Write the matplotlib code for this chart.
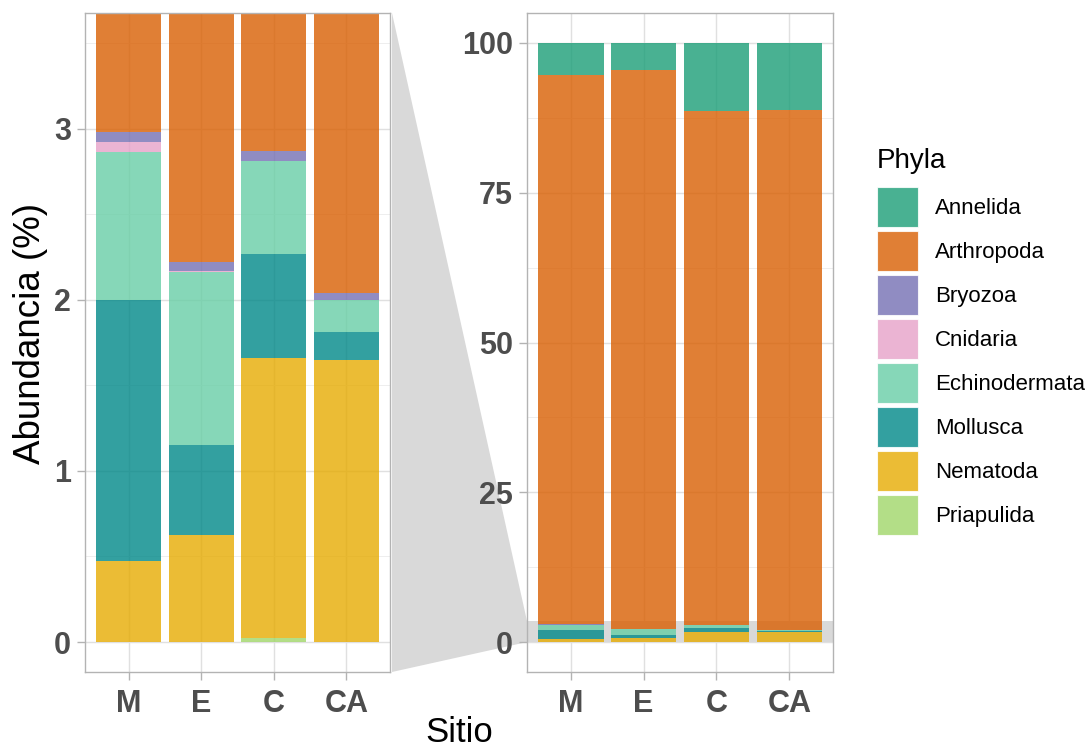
import matplotlib
matplotlib.use('Agg')
import matplotlib.pyplot as plt
from matplotlib.patches import Patch, Polygon
from matplotlib.ticker import MultipleLocator
import numpy as np

plt.rcParams['font.family'] = ['Liberation Sans', 'DejaVu Sans']

# ---- data (percent abundance) ----
sites = ['M', 'E', 'C', 'CA']
phyla = ['Annelida', 'Arthropoda', 'Bryozoa', 'Cnidaria',
         'Echinodermata', 'Mollusca', 'Nematoda', 'Priapulida']
annelida = [5.30, 4.50, 11.30, 11.20]
arthropoda = [91.72, 93.28, 85.83, 86.76]
bryozoa = [0.059, 0.049, 0.056, 0.039]
cnidaria = [0.058, 0.007, 0.0, 0.0]
echinodermata = [0.865, 1.010, 0.545, 0.184]
mollusca = [1.525, 0.525, 0.607, 0.168]
nematoda = [0.475, 0.627, 1.633, 1.646]
priapulida = [0.0, 0.0, 0.025, 0.0]
colors = ['#1B9E77', '#D95F02', '#7570B3', '#E6A1C9',
          '#68CEA6', '#008888', '#E6AB02', '#A0D669']
zoom_range = (0, 3.5)

values = dict(zip(phyla, [annelida, arthropoda, bryozoa, cnidaria,
                          echinodermata, mollusca, nematoda, priapulida]))
cmap = dict(zip(phyla, colors))
stack_order = phyla[::-1]  # Priapulida at bottom, Annelida on top

W, H = 1091, 749
fig = plt.figure(figsize=(W / 100, H / 100), dpi=100)
axL = fig.add_axes([85 / W, 1 - 672 / H, 305 / W, 659 / H])
axR = fig.add_axes([527 / W, 1 - 672 / H, 306 / W, 659 / H])

x = np.arange(1, len(sites) + 1)
ALPHA = 0.8


def draw(ax, ylim, major, minor):
    ax.set_facecolor('white')
    ax.set_axisbelow(True)
    bottom = np.zeros(len(sites))
    for ph in stack_order:
        v = np.array(values[ph])
        ax.bar(x, v, bottom=bottom, width=0.9, color=cmap[ph], alpha=ALPHA,
               linewidth=0, zorder=2)
        bottom += v
    ax.set_xlim(0.4, len(sites) + 0.6)
    ax.set_ylim(*ylim)
    ax.yaxis.set_major_locator(MultipleLocator(major))
    ax.yaxis.set_minor_locator(MultipleLocator(minor))
    ax.set_xticks(x)
    ax.set_xticklabels(sites, fontweight='bold')
    ax.grid(which='major', color='#E0E0E0', lw=1.0, zorder=0)
    ax.grid(which='minor', axis='y', color='#EBEBEB', lw=0.6, zorder=0)
    for s in ax.spines.values():
        s.set_color('#B3B3B3')
        s.set_linewidth(1.0)
    ax.tick_params(which='major', length=6, width=1, color='#B3B3B3',
                   labelsize=22, labelcolor='#4D4D4D')
    ax.tick_params(axis='y', pad=4)
    ax.tick_params(axis='x', pad=6)
    ax.tick_params(which='minor', length=0)


zr = zoom_range[1] - zoom_range[0]
draw(axL, (zoom_range[0] - 0.05 * zr, zoom_range[1] + 0.05 * zr), 1, 0.5)
draw(axR, (-5, 105), 25, 12.5)
axR.axhspan(zoom_range[0], zoom_range[1], color='#D9D9D9', zorder=1.5, lw=0)
axL.set_yticks([0, 1, 2, 3])
axL.set_yticklabels(['0', '1', '2', '3'], fontweight='bold')
axR.set_yticks([0, 25, 50, 75, 100])
axR.set_yticklabels(['0', '25', '50', '75', '100'], fontweight='bold')

# zoom connector
inv = fig.transFigure.inverted()
tl = inv.transform(axL.transAxes.transform((1, 1)))
bl = inv.transform(axL.transAxes.transform((1, 0)))
xr0 = axR.get_xlim()[0]
tr = inv.transform(axR.transData.transform((xr0, zoom_range[1])))
br = inv.transform(axR.transData.transform((xr0, zoom_range[0])))
off = 2 / W
poly = Polygon([(tl[0] + off, tl[1]), (tr[0], tr[1]), (br[0], br[1]), (bl[0] + off, bl[1])],
               closed=True, transform=fig.transFigure, facecolor='#D9D9D9',
               edgecolor='none', zorder=-1)
fig.patches.append(poly)

fig.text(31 / W, 1 - 333 / H, 'Abundancia (%)', rotation=90, fontsize=26.5,
         ha='center', va='center')
fig.text(459 / W, 1 - 733 / H, 'Sitio', fontsize=25, ha='center', va='center')

# legend
fig.text(877 / W, 1 - 168 / H, 'Phyla', fontsize=20, ha='left', va='baseline')
handles = [Patch(facecolor=cmap[p], alpha=ALPHA, edgecolor='white', lw=0.8) for p in phyla]
leg = fig.legend(handles=handles, labels=phyla, loc='upper left',
                 bbox_to_anchor=(877 / W, 1 - 187 / H), frameon=False,
                 fontsize=16, borderpad=0,
                 handlelength=1.85, handleheight=2.39, labelspacing=0.18,
                 handletextpad=0.75, borderaxespad=0)

fig.savefig('out.png', dpi=100)
